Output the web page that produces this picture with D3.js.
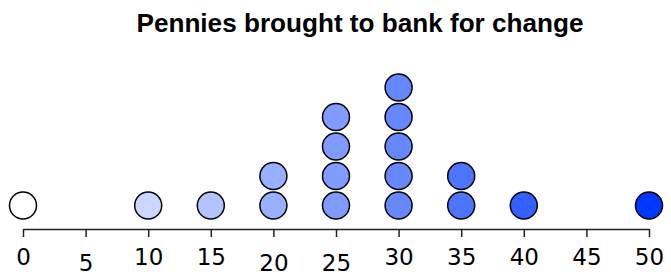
<!DOCTYPE html>
<html>
<head>
<meta charset="utf-8">
<script src="https://cdnjs.cloudflare.com/ajax/libs/d3/7.8.5/d3.min.js"></script>
<style>
  html, body { margin: 0; padding: 0; background: #fff; }
  svg { display: block; }
</style>
</head>
<body>
<svg id="chart" width="671" height="277"></svg>
<script>
// pennies brought in (value) and how many people brought that many
var values = [0, 10, 15, 20, 25, 30, 35, 40, 50];
var counts = [1, 1, 1, 2, 4, 5, 2, 1, 1];
var tickValues = [0, 5, 10, 15, 20, 25, 30, 35, 40, 45, 50];
var lowTicks = [5, 20, 25]; // these labels sit a bit lower
var title = "Pennies brought to bank for change";

var svg = d3.select("#chart"),
    axisY = 229,
    r = 13.5,
    step = 29.5;

var x = d3.scaleLinear().domain([0, 50]).range([23, 649]);
var color = d3.scaleLinear().domain([0, 50]).range(["#ffffff", "#0038ff"]);

svg.append("text")
    .attr("x", 360)
    .attr("y", 32)
    .attr("text-anchor", "middle")
    .attr("textLength", 447)
    .attr("lengthAdjust", "spacingAndGlyphs")
    .style("font-family", "Liberation Sans, Arial, sans-serif")
    .style("font-size", "25px")
    .style("font-weight", "bold")
    .text(title);

// axis
var axis = svg.append("g")
    .attr("transform", "translate(0," + axisY + ")")
    .call(d3.axisBottom(x).tickValues(tickValues).tickSize(8).tickSizeOuter(0));
axis.select(".domain").attr("stroke", "#222").attr("stroke-width", 1.5);
axis.selectAll(".tick line").attr("stroke", "#222").attr("stroke-width", 1.5);
axis.selectAll(".tick text")
    .attr("dy", null)
    .attr("y", function(d) { return lowTicks.indexOf(d) >= 0 ? 42 : 36; })
    .style("font-family", "DejaVu Sans, sans-serif")
    .style("font-size", "23px")
    .attr("fill", "#000");

// stacked dots
var dots = [];
values.forEach(function(v, i) {
    for (var k = 0; k < counts[i]; k++) dots.push({v: v, k: k});
});

svg.append("g").selectAll("circle")
    .data(dots)
    .join("circle")
    .attr("cx", function(d) { return x(d.v); })
    .attr("cy", function(d) { return axisY - 23.5 - d.k * step; })
    .attr("r", r)
    .attr("fill", function(d) { return color(d.v); })
    .attr("stroke", "#000")
    .attr("stroke-width", 1.5);
</script>
</body>
</html>
